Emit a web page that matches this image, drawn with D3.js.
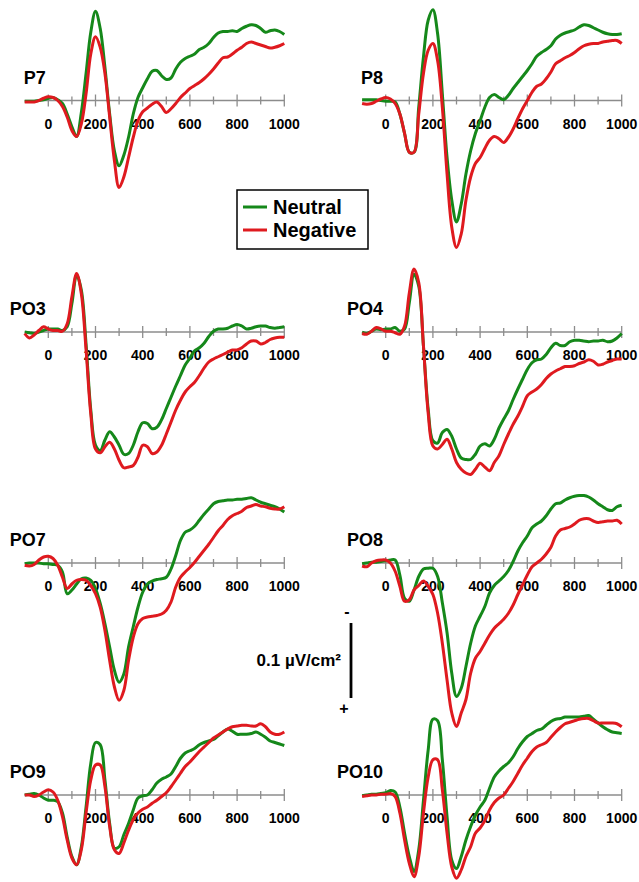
<!DOCTYPE html>
<html>
<head>
<meta charset="utf-8">
<script src="https://cdn.jsdelivr.net/npm/d3@7"></script>
<style>
  html, body { margin: 0; padding: 0; background: #fff; }
  text { font-family: "Liberation Sans", Arial, sans-serif; font-weight: bold; fill: #000; }
</style>
</head>
<body>
<div id="chart"></div>
<script>
const width = 639;
const height = 882;

// time points (ms)
const times = [-100,-80,-60,-40,-20,0,20,40,60,80,100,120,140,160,180,200,220,240,260,280,
  300,320,340,360,380,400,420,440,460,480,500,520,540,560,580,600,620,640,660,680,
  700,720,740,760,780,800,820,840,860,880,900,920,940,960,980,1000];
const tickValues = [0,100,200,300,400,500,600,700,800,900,1000];
const tickLabels = [0,200,400,600,800,1000];
const conditions = ["Neutral", "Negative"];
const channels = ["P7","P8","PO3","PO4","PO7","PO8","PO9","PO10"];

// amplitudes in 10^-3 uV/cm^2 (negative plotted up)
const neutralP7 = [1,1,1,0,-1,-3,-4,-1,4,18, 35,48,16,-36,-91,-119,-96,-44,18,67,
  87,73,49,18,-4,-17,-29,-39,-40,-33, -28,-30,-42,-51,-56,-59,-62,-68,-71,-76,
  -84,-90,-92,-92,-93,-92,-96,-99,-101,-100, -96,-91,-93,-94,-92,-88];
const negativeP7 = [2,2,2,0,-3,-5,-4,0,8,22, 40,48,31,-9,-62,-85,-71,-36,22,80,
  116,102,76,49,27,15,10,5,2,8, 16,11,4,-4,-10,-16,-20,-24,-29,-35,
  -42,-50,-57,-58,-62,-67,-71,-76,-78,-76, -74,-72,-70,-71,-73,-76];
const neutralP8 = [-1,-1,-1,-1,0,1,1,2,18,44, 69,69,9,-58,-107,-121,-89,-9,76,133,
  162,138,98,67,44,27,9,-4,-8,-4, -1,-7,-16,-24,-32,-40,-49,-59,-64,-68,
  -73,-82,-87,-90,-92,-94,-98,-101,-100,-97, -94,-91,-89,-88,-88,-89];
const negativeP8 = [4,5,4,1,-2,-4,-2,4,18,44, 69,69,18,-36,-67,-76,-53,9,98,169,
  196,178,133,102,84,76,64,53,48,51, 56,49,38,24,11,0,-11,-19,-22,-29,
  -38,-49,-53,-57,-60,-64,-69,-73,-75,-76, -76,-78,-79,-80,-80,-76];
const neutralPO3 = [0,1,2,0,-2,-4,-4,-4,-2,-7, -38,-76,-56,16,104,151,158,144,133,140,
  151,163,162,151,133,121,122,129,127,117, 102,87,72,58,44,35,25,21,15,6,
  -1,-4,-4,-5,-8,-10,-8,-4,-5,-7, -8,-8,-6,-5,-6,-7];
const negativePO3 = [2,8,4,-2,-7,-4,-2,-2,-1,-11, -47,-78,-51,24,109,156,161,153,147,156,
  171,181,180,178,167,151,153,162,160,151, 136,120,104,91,80,73,67,58,48,40,
  36,33,30,27,24,24,21,16,12,12, 16,14,10,8,7,7];
const neutralPO4 = [0,2,-1,-4,-3,-4,-4,-6,-1,-4, -39,-77,-61,19,103,145,148,134,130,139,
  156,168,170,170,163,152,149,152,143,128, 116,105,90,76,63,50,41,37,36,30,
  21,15,18,18,13,11,11,12,13,12, 12,11,13,12,8,2];
const negativePO4 = [2,3,-1,-6,-4,-1,-1,1,3,-8, -52,-84,-66,19,108,152,156,150,143,156,
  174,183,188,190,183,175,180,185,174,165, 150,136,123,112,99,85,80,76,70,62,
  56,52,49,46,46,45,42,40,37,39, 44,43,40,38,36,36];
const neutralPO7 = [1,0,0,0,1,1,2,3,12,41, 36,28,21,20,23,34,54,81,112,143,
  159,148,112,85,59,39,28,24,22,21, 19,8,-10,-30,-41,-44,-49,-57,-65,-72,
  -79,-82,-83,-84,-84,-85,-85,-86,-87,-84, -81,-79,-77,-75,-72,-68];
const negativePO7 = [3,4,2,-4,-8,-9,-6,3,19,34, 28,23,22,23,30,41,59,90,130,165,
  183,170,130,99,81,74,72,71,70,68, 63,52,32,19,12,6,-1,-9,-17,-25,
  -34,-43,-50,-58,-63,-66,-69,-74,-76,-78, -76,-75,-73,-72,-72,-75];
const neutralPO8 = [1,0,-1,-1,-2,-3,-4,-4,16,47, 51,36,18,8,7,7,18,53,93,147,
  178,167,138,107,84,71,58,40,30,24, 18,10,-2,-16,-27,-36,-47,-52,-56,-63,
  -72,-79,-80,-84,-87,-89,-90,-90,-88,-84, -79,-75,-71,-70,-75,-77];
const negativePO8 = [4,5,0,-3,-4,-4,0,11,31,51, 49,36,30,24,31,42,67,107,156,200,
  218,200,182,147,127,118,107,96,87,81, 75,67,56,42,29,16,5,0,-5,-12,
  -21,-36,-44,-46,-48,-52,-57,-59,-59,-56, -54,-55,-56,-56,-57,-52];
const neutralPO9 = [0,-1,-2,0,4,7,7,9,24,56, 82,93,69,16,-42,-70,-67,-20,38,71,
  69,53,38,20,4,1,0,-7,-16,-21, -24,-28,-38,-49,-56,-59,-62,-67,-70,-72,
  -74,-79,-84,-88,-85,-81,-81,-81,-82,-84, -81,-77,-72,-70,-68,-66];
const negativePO9 = [0,0,2,0,-4,-7,-4,7,29,60, 84,93,73,24,-20,-40,-40,-11,42,73,
  78,64,47,33,24,19,16,11,7,2, -3,-11,-20,-29,-38,-44,-51,-58,-64,-70,
  -76,-80,-84,-88,-91,-92,-93,-93,-92,-92, -95,-91,-84,-81,-81,-84];
const neutralPO10 = [1,0,-1,-1,-2,-3,-6,-4,16,51, 82,102,73,7,-60,-101,-99,-47,29,87,
  98,82,60,42,27,16,7,-9,-24,-32, -38,-43,-51,-62,-71,-78,-82,-86,-88,-93,
  -98,-101,-102,-104,-104,-104,-104,-105,-106,-101, -96,-91,-87,-84,-83,-82];
const negativePO10 = [2,1,0,0,-1,-1,-2,2,24,60, 91,109,82,24,-24,-47,-47,-7,51,96,
  111,100,82,69,51,44,34,20,10,4, 0,-9,-18,-29,-40,-49,-58,-64,-67,-70,
  -77,-84,-90,-95,-97,-99,-101,-102,-102,-99, -96,-96,-96,-96,-95,-91];

const neutralData = [neutralP7, neutralP8, neutralPO3, neutralPO4, neutralPO7, neutralPO8, neutralPO9, neutralPO10];
const negativeData = [negativeP7, negativeP8, negativePO3, negativePO4, negativePO7, negativePO8, negativePO9, negativePO10];

const colors = ["#15881a", "#df1a1f"];
const colX = [24.7, 362.1];
const rowY = [100.5, 332, 563, 795];
const pxPerMs = 0.236;
const pxPerUnit = 0.75;   // 0.1 uV/cm^2 = 75 px

neutralData.concat(negativeData).forEach((arr, i) => {
  if (arr.length !== times.length) throw new Error("length mismatch in series " + i + ": " + arr.length);
});

const svg = d3.select("#chart").append("svg")
  .attr("width", width)
  .attr("height", height);

channels.forEach((name, i) => {
  const x0 = colX[i % 2];
  const y0 = rowY[Math.floor(i / 2)];

  const x = d3.scaleLinear().domain([-100, 1000]).range([x0, x0 + 1100 * pxPerMs]);
  const y = d3.scaleLinear().domain([-100, 100]).range([y0 - 100 * pxPerUnit, y0 + 100 * pxPerUnit]);

  const g = svg.append("g").attr("class", "panel");

  // axis
  g.append("line")
    .attr("x1", x(-100)).attr("x2", x(1000))
    .attr("y1", y(0)).attr("y2", y(0))
    .attr("stroke", "#8c8c8c").attr("stroke-width", 1.5);

  g.selectAll(".tick")
    .data(tickValues)
    .enter()
    .append("line")
    .attr("x1", d => x(d)).attr("x2", d => x(d))
    .attr("y1", d => y(0) - (d % 200 === 0 ? 6 : 4))
    .attr("y2", d => y(0) + (d % 200 === 0 ? 6 : 4))
    .attr("stroke", "#8c8c8c").attr("stroke-width", 1.3);

  g.selectAll(".ticklabel")
    .data(tickLabels)
    .enter()
    .append("text")
    .attr("x", d => x(d))
    .attr("y", y(0) + 28)
    .attr("text-anchor", "middle")
    .style("font-size", "14px")
    .text(d => d);

  g.append("text")
    .attr("x", x(-100) + 21)
    .attr("y", y(0) - 17)
    .attr("text-anchor", "end")
    .style("font-size", "18px")
    .text(name);

  const line = d3.line()
    .x((d, j) => x(times[j]))
    .y(d => y(d))
    .curve(d3.curveCatmullRom.alpha(0.5));

  [neutralData[i], negativeData[i]].forEach((series, k) => {
    g.append("path")
      .attr("d", line(series))
      .attr("fill", "none")
      .attr("stroke", colors[k])
      .attr("stroke-width", 3)
      .attr("stroke-linejoin", "round");
  });
});

// legend
const legend = svg.append("g").attr("transform", "translate(237,190)");
legend.append("rect")
  .attr("width", 131).attr("height", 59)
  .attr("fill", "#fff").attr("stroke", "#000").attr("stroke-width", 1.5);
legend.selectAll(".swatch")
  .data(conditions)
  .enter()
  .append("line")
  .attr("x1", 6).attr("x2", 30)
  .attr("y1", (d, i) => 17 + i * 23).attr("y2", (d, i) => 17 + i * 23)
  .attr("stroke", (d, i) => colors[i]).attr("stroke-width", 3);
legend.selectAll(".label")
  .data(conditions)
  .enter()
  .append("text")
  .attr("x", 36)
  .attr("y", (d, i) => 23.5 + i * 23)
  .style("font-size", "20px")
  .text(d => d);

// scale bar
const bar = svg.append("g");
bar.append("line")
  .attr("x1", 351).attr("x2", 351)
  .attr("y1", 623).attr("y2", 623 + 100 * pxPerUnit)
  .attr("stroke", "#000").attr("stroke-width", 2.8);
bar.append("text").attr("x", 347).attr("y", 617).attr("text-anchor", "middle")
  .style("font-size", "16px").text("-");
bar.append("text").attr("x", 344).attr("y", 714).attr("text-anchor", "middle")
  .style("font-size", "16px").text("+");
bar.append("text").attr("x", 341).attr("y", 666).attr("text-anchor", "end")
  .style("font-size", "17px").text("0.1 µV/cm²");
</script>
</body>
</html>
